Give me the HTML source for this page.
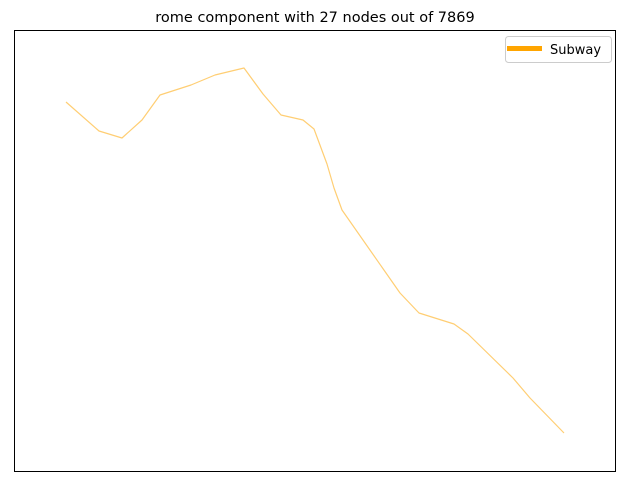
<!DOCTYPE html>
<html><head><meta charset="utf-8"><style>
body{margin:0;background:#fff;width:630px;height:486px;overflow:hidden;font-family:"Liberation Sans","DejaVu Sans",sans-serif}
</style></head><body>
<svg id="chart" width="630" height="486" xmlns="http://www.w3.org/2000/svg">
<text x="315" y="22" text-anchor="middle" font-size="14.5" font-family="DejaVu Sans, Liberation Sans, sans-serif">rome component with 27 nodes out of 7869</text>
<rect x="14.5" y="30.5" width="601" height="441" fill="none" stroke="#000" stroke-width="1"/>
<g id="series"></g>
<g>
<rect x="505.5" y="36.5" width="106" height="26" rx="3" fill="#fff" stroke="#ccc"/>
<line x1="507" y1="48.5" x2="542" y2="48.5" stroke="#ffa500" stroke-width="5"/>
<text x="550" y="54" font-size="13" font-family="DejaVu Sans, Liberation Sans, sans-serif">Subway</text>
</g>
</svg>
<script>
const xValues=[66,99,122,142,160,191,215,244,263,281,303,314,327,334,342,400,419,454,468,513,530,564];
const yValues=[384,355,348,366,391,401,411,418,392,371,366,357,322,298,276,193,173,162,152,108,88,53];
const xDomain=[14.5,615.5], yDomain=[14.5,455.5];
function sx(v){return 14.5+(v-xDomain[0])/(xDomain[1]-xDomain[0])*601;}
function sy(v){return 471.5-(v-yDomain[0])/(yDomain[1]-yDomain[0])*441;}
const g=document.getElementById('series');
let d='';
for(let i=0;i<xValues.length;i++){d+=(i?'L':'M')+sx(xValues[i]).toFixed(1)+','+sy(yValues[i]).toFixed(1);}
const p=document.createElementNS('http://www.w3.org/2000/svg','path');
p.setAttribute('d',d);
p.setAttribute('fill','none');
p.setAttribute('stroke','#ffa500');
p.setAttribute('stroke-opacity','0.55');
p.setAttribute('stroke-width','1.2');
p.setAttribute('stroke-linejoin','round');


g.appendChild(p);
</script>
</body></html>
